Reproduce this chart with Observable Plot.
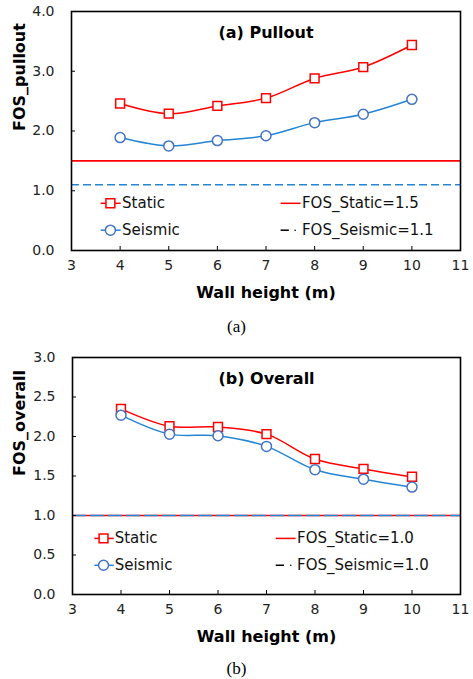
<!DOCTYPE html>
<html><head><meta charset="utf-8">
<script src="https://cdn.jsdelivr.net/npm/d3@7"></script>
<script src="https://cdn.jsdelivr.net/npm/@observablehq/plot@0.6"></script>
<style>
body{margin:0;background:#fff;width:473px;overflow:hidden;}
.cap{font-family:"Liberation Serif","Times New Roman",serif;font-size:17px;text-align:center;width:473px;}
svg{display:block;}
</style></head><body><div id="c"></div>
<script>
// Wall heights (m)
const heights = [4, 5, 6, 7, 8, 9, 10];
const xTicks = [3, 4, 5, 6, 7, 8, 9, 10, 11];
// (a) Pullout
const pulloutStatic  = [2.46, 2.29, 2.42, 2.55, 2.88, 3.07, 3.44];
const pulloutSeismic = [1.89, 1.75, 1.84, 1.92, 2.14, 2.28, 2.53];
const pulloutYTicks = [0, 1, 2, 3, 4];
const pulloutLimitStatic = 1.5;
const pulloutLimitSeismic = 1.1;
// (b) Overall
const overallStatic  = [2.35, 2.13, 2.12, 2.03, 1.715, 1.59, 1.49];
const overallSeismic = [2.27, 2.03, 2.01, 1.875, 1.58, 1.46, 1.36];
const overallYTicks = [0, 0.5, 1, 1.5, 2, 2.5, 3];
const overallLimitStatic = 1.0;
const overallLimitSeismic = 1.0;

const RED = "#FF0000";
const BLUE_LINE = "#2485D3";
const BLUE_MARK = "#4472C4";
const FONT = "DejaVu Sans, Verdana, sans-serif";

function panel(cfg) {
  const W = 473, mL = cfg.mL, mR = 13, mT = cfg.mT, mB = 55;
  const frameH = cfg.height - mT - mB;
  const frameW = W - mL - mR;
  const st = heights.map((h, i) => ({x: h, y: cfg.stat[i]}));
  const se = heights.map((h, i) => ({x: h, y: cfg.seis[i]}));
  const lg = cfg.legend;
  return Plot.plot({
    width: W, height: cfg.height,
    marginLeft: mL, marginRight: mR, marginTop: mT, marginBottom: mB,
    style: {fontFamily: FONT, background: "white", color: "black"},
    x: {domain: [3, 11], axis: null},
    y: {domain: cfg.yDomain, axis: null},
    marks: [
      Plot.ruleY([cfg.limStat], {stroke: RED, strokeWidth: 1.6}),
      Plot.ruleY([cfg.limSeis], {stroke: BLUE_LINE, strokeWidth: 1.6, strokeDasharray: cfg.dash}),
      Plot.line(st, {x: "x", y: "y", stroke: RED, strokeWidth: 1.5, curve: "catmull-rom"}),
      Plot.line(se, {x: "x", y: "y", stroke: BLUE_LINE, strokeWidth: 1.5, curve: "catmull-rom"}),
      Plot.dot(st, {x: "x", y: "y", symbol: "square", r: 5, stroke: RED, fill: "white", strokeWidth: 1.5}),
      Plot.dot(se, {x: "x", y: "y", symbol: "circle", r: 5, stroke: BLUE_MARK, fill: "white", strokeWidth: 1.5}),
      // inward ticks
      Plot.tickX(xTicks, {x: d => d, insetTop: frameH - 4, stroke: "black", strokeWidth: 1}),
      Plot.tickY(cfg.yTicks, {y: d => d, insetRight: frameW - 4, stroke: "black", strokeWidth: 1}),
      Plot.axisX(xTicks, {tickSize: 0, tickPadding: 10, fontSize: 14, fill: "#222", label: null}),
      Plot.axisY(cfg.yTicks, {tickSize: 0, tickPadding: 17, fontSize: 14, fill: "#222", tickFormat: d3.format(".1f"), label: null}),
      Plot.frame({stroke: "black", strokeWidth: 1.6}),
      // panel title
      Plot.text([cfg.title], {frameAnchor: "top", dy: cfg.titleDy, fontSize: 16, fontWeight: "bold", lineAnchor: "middle"}),
      // axis titles
      Plot.text(["Wall height (m)"], {frameAnchor: "bottom", dy: 42, fontSize: 16, fontWeight: "bold", lineAnchor: "middle"}),
      Plot.text([cfg.yLabel], {frameAnchor: "left", dx: -(mL - 19), rotate: -90, fontSize: 16, fontWeight: "bold", lineAnchor: "middle"}),
      // legend
      Plot.link([0], {x1: () => lg.x1, x2: () => lg.x2, y1: () => lg.yS, y2: () => lg.yS, stroke: RED, strokeWidth: 1.5}),
      Plot.dot([0], {x: () => lg.xm, y: () => lg.yS, symbol: "square", r: 5, stroke: RED, fill: "white", strokeWidth: 1.5}),
      Plot.link([0], {x1: () => lg.x1, x2: () => lg.x2, y1: () => lg.yE, y2: () => lg.yE, stroke: BLUE_LINE, strokeWidth: 1.5}),
      Plot.dot([0], {x: () => lg.xm, y: () => lg.yE, symbol: "circle", r: 5, stroke: BLUE_MARK, fill: "white", strokeWidth: 1.5}),
      Plot.text(["Static", "Seismic"], {x: () => lg.xt, y: (d, i) => i ? lg.yE : lg.yS, textAnchor: "start", fontSize: 15, lineAnchor: "middle", fill: "#111"}),
      Plot.link([0], {x1: () => lg.r1, x2: () => lg.r2, y1: () => lg.yS, y2: () => lg.yS, stroke: RED, strokeWidth: 1.5}),
      Plot.link([0], {x1: () => lg.r1, x2: () => lg.rd, y1: () => lg.yE, y2: () => lg.yE, stroke: "black", strokeWidth: 1.5}),
      Plot.dot([0], {x: () => lg.rdot, y: () => lg.yE, r: 0.8, fill: "black"}),
      Plot.text([cfg.legStat, cfg.legSeis], {x: () => lg.rt, y: (d, i) => i ? lg.yE : lg.yS, textAnchor: "start", fontSize: 15, lineAnchor: "middle", fill: "#111"})
    ]
  });
}

const root = document.getElementById("c");

const pa = panel({
  height: 305, mL: 71, mT: 11,
  yDomain: [0, 4], yTicks: pulloutYTicks,
  stat: pulloutStatic, seis: pulloutSeismic,
  limStat: pulloutLimitStatic, limSeis: pulloutLimitSeismic,
  dash: "8,4", title: "(a) Pullout", titleDy: 21, yLabel: "FOS_pullout",
  legStat: "FOS_Static=1.5", legSeis: "FOS_Seismic=1.1",
  legend: {yS: 0.79, yE: 0.34, x1: 3.6, x2: 4.01, xm: 3.8, xt: 4.04, r1: 7.3, r2: 7.71, rd: 7.47, rdot: 7.6, rt: 7.74}
});
root.appendChild(pa);
const ca = document.createElement("div");
ca.className = "cap"; ca.textContent = "(a)";
ca.style.height = "40px"; ca.style.lineHeight = "40px"; ca.style.marginTop = "2px";
root.appendChild(ca);

const pb = panel({
  height: 302, mL: 72, mT: 10,
  yDomain: [0, 3], yTicks: overallYTicks,
  stat: overallStatic, seis: overallSeismic,
  limStat: overallLimitStatic, limSeis: overallLimitSeismic,
  dash: "14,4", title: "(b) Overall", titleDy: 21, yLabel: "FOS_overall",
  legStat: "FOS_Static=1.0", legSeis: "FOS_Seismic=1.0",
  legend: {yS: 0.71, yE: 0.37, x1: 3.45, x2: 3.85, xm: 3.64, xt: 3.87, r1: 7.19, r2: 7.6, rd: 7.36, rdot: 7.5, rt: 7.63}
});
root.appendChild(pb);
const cb = document.createElement("div");
cb.className = "cap"; cb.textContent = "(b)";
cb.style.height = "40px"; cb.style.lineHeight = "40px";
root.appendChild(cb);
</script></body></html>
